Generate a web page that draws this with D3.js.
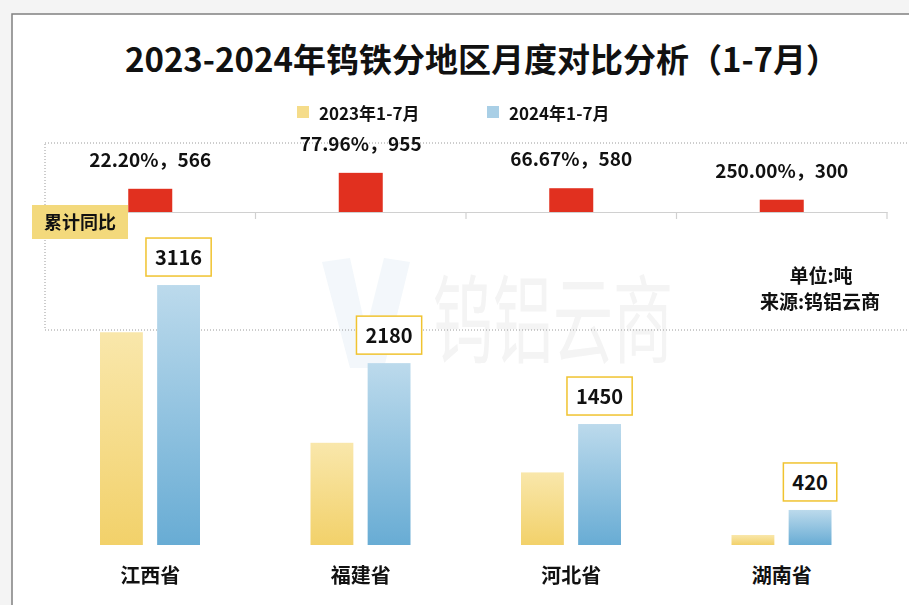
<!DOCTYPE html>
<html>
<head>
<meta charset="utf-8">
<script src="https://cdn.jsdelivr.net/npm/d3@7"></script>
<style>
  body { margin: 0; background: #f4f4f4; }
  text { font-family: "Noto Sans CJK SC", "Noto Sans", sans-serif; font-weight: bold; fill: #111; }
</style>
</head>
<body>
<div id="chart"></div>
<script>
// data
var provinces = ["江西省", "福建省", "河北省", "湖南省"];
var seriesNames = ["2023年1-7月", "2024年1-7月"];
var values2023 = [2550, 1225, 870, 120];
var values2024 = [3116, 2180, 1450, 420];
var increase = [566, 955, 580, 300];
var increasePct = ["22.20%", "77.96%", "66.67%", "250.00%"];

var width = 909, height = 605;

var svg = d3.select("#chart")
  .append("svg")
  .attr("width", width)
  .attr("height", height);

// gradients
var defs = svg.append("defs");
function makeGradient(id, top, bottom) {
  var g = defs.append("linearGradient")
    .attr("id", id)
    .attr("x1", 0).attr("y1", 0).attr("x2", 0).attr("y2", 1);
  g.append("stop").attr("offset", "0%").attr("stop-color", top);
  g.append("stop").attr("offset", "100%").attr("stop-color", bottom);
}
makeGradient("gradYellow", "#f9e7ab", "#f2d16a");
makeGradient("gradBlue", "#bcdaec", "#68acd4");

// card
svg.append("rect")
  .attr("x", 12).attr("y", 14)
  .attr("width", width).attr("height", height)
  .attr("fill", "#fff")
  .attr("stroke", "#808080")
  .attr("stroke-width", 1.5);

// title
svg.append("text")
  .attr("x", 482).attr("y", 72)
  .attr("text-anchor", "middle")
  .style("font-size", "33px")
  .text("2023-2024年钨铁分地区月度对比分析（1-7月）");

// watermark
var wm = svg.append("g").attr("opacity", 0.5);
wm.append("path")
  .attr("d", "M322,262 L350,258 L366,330 L384,258 L410,262 L384,368 L350,368 Z")
  .attr("fill", "#e6eff6");
wm.append("text")
  .attr("x", 553).attr("y", 0)
  .attr("text-anchor", "middle")
  .attr("transform", "translate(0,355) scale(1,1.6)")
  .style("font-size", "60px")
  .style("font-weight", "normal")
  .style("fill", "#e8e8e8")
  .text("钨铝云商");

// legend
var legendColors = ["#f5dc8a", "#a9cfe6"];
var legendX = [297, 487];
seriesNames.forEach(function(name, i) {
  svg.append("rect")
    .attr("x", legendX[i]).attr("y", 106)
    .attr("width", 12).attr("height", 12)
    .attr("fill", legendColors[i]);
  svg.append("text")
    .attr("x", legendX[i] + 22).attr("y", 120)
    .style("font-size", "17px")
    .text(name);
});

// dotted frame around top panel
svg.append("rect")
  .attr("x", 45).attr("y", 143)
  .attr("width", 900).attr("height", 187)
  .attr("fill", "none")
  .attr("stroke", "#9a9a9a")
  .attr("stroke-width", 1)
  .attr("stroke-dasharray", "1,2");

// scales
var x = d3.scaleBand()
  .domain(provinces)
  .range([45, 887]);

var x1 = d3.scaleBand()
  .domain(seriesNames)
  .range([55, 155])
  .paddingInner(0.25);

var yTop = d3.scaleLinear()
  .domain([0, 1000])
  .range([212, 171]);

var yBot = d3.scaleLinear()
  .domain([0, 3500])
  .range([545, 253]);

// top axis (increase)
var topAxis = svg.append("g")
  .attr("transform", "translate(0," + yTop(0) + ")")
  .call(d3.axisBottom(x).tickSize(0).tickFormat(""));
topAxis.select(".domain").attr("stroke", "#d0d0d0").attr("stroke-width", 1.2);
topAxis.selectAll(".sep")
  .data(provinces)
  .enter().append("line")
  .attr("x1", function(d) { return x(d) + x.bandwidth(); })
  .attr("x2", function(d) { return x(d) + x.bandwidth(); })
  .attr("y1", 0).attr("y2", 7)
  .attr("stroke", "#d0d0d0")
  .attr("stroke-width", 1.2);

// red bars
var redW = 44;
svg.selectAll(".inc")
  .data(provinces)
  .enter().append("rect")
  .attr("x", function(d) { return x(d) + x.bandwidth() / 2 - redW / 2; })
  .attr("y", function(d, i) { return yTop(increase[i]); })
  .attr("width", redW)
  .attr("height", function(d, i) { return yTop(0) - yTop(increase[i]); })
  .attr("fill", "#e1301f");

svg.selectAll(".incLabel")
  .data(provinces)
  .enter().append("text")
  .attr("x", function(d) { return x(d) + x.bandwidth() / 2; })
  .attr("y", function(d, i) { return yTop(increase[i]) - 22; })
  .attr("text-anchor", "middle")
  .style("font-size", "19px")
  .text(function(d, i) { return increasePct[i] + "，" + increase[i]; });

// 累计同比 tag
svg.append("rect")
  .attr("x", 32).attr("y", 205)
  .attr("width", 96).attr("height", 34)
  .attr("fill", "#f3d97c");
svg.append("text")
  .attr("x", 80).attr("y", 229)
  .attr("text-anchor", "middle")
  .style("font-size", "18px")
  .text("累计同比");

// unit / source
svg.append("text")
  .attr("x", 821).attr("y", 283)
  .attr("text-anchor", "middle")
  .style("font-size", "19px")
  .text("单位:吨");
svg.append("text")
  .attr("x", 820).attr("y", 309)
  .attr("text-anchor", "middle")
  .style("font-size", "19px")
  .text("来源:钨铝云商");

// bottom bars
var rows = provinces.map(function(p, i) {
  return { province: p, vals: [values2023[i], values2024[i]] };
});
var fills = ["url(#gradYellow)", "url(#gradBlue)"];

var groups = svg.selectAll(".grp")
  .data(rows)
  .enter().append("g")
  .attr("transform", function(d) { return "translate(" + x(d.province) + ",0)"; });

groups.selectAll("rect")
  .data(function(d) { return d.vals.map(function(v, j) { return { s: seriesNames[j], v: v, j: j }; }); })
  .enter().append("rect")
  .attr("x", function(d) { return x1(d.s); })
  .attr("y", function(d) { return yBot(d.v); })
  .attr("width", x1.bandwidth())
  .attr("height", function(d) { return yBot(0) - yBot(d.v); })
  .attr("fill", function(d) { return fills[d.j]; });

// 2024 value boxes
groups.each(function(d) {
  var g = d3.select(this);
  var cx = x1(seriesNames[1]) + x1.bandwidth() / 2;
  var top = yBot(d.vals[1]);
  var t = g.append("text")
    .attr("x", cx).attr("y", top - 20)
    .attr("text-anchor", "middle")
    .style("font-size", "20px")
    .text(d.vals[1]);
  var w = t.node().getComputedTextLength() + 18;
  g.insert("rect", "text")
    .attr("x", cx - w / 2).attr("y", top - 47)
    .attr("width", w).attr("height", 38)
    .attr("fill", "#fff")
    .attr("stroke", "#f0c330")
    .attr("stroke-width", 1.5);
});

// category axis
var bottomAxis = svg.append("g")
  .attr("transform", "translate(0," + yBot(0) + ")")
  .call(d3.axisBottom(x).tickSize(0).tickPadding(24));
bottomAxis.select(".domain").remove();
bottomAxis.selectAll("text")
  .style("font-size", "20px")
  .style("fill", "#111")
  .attr("font-family", null);
</script>
</body>
</html>
